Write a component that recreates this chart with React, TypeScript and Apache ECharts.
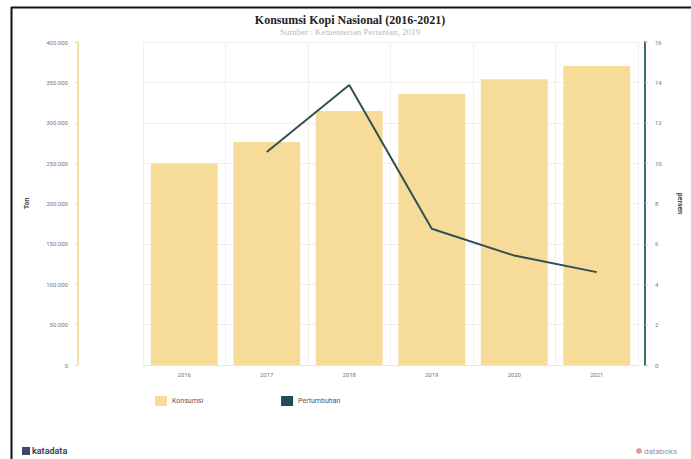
import React, { useEffect, useRef } from "react";
import * as echarts from "echarts";

const years = ["2016", "2017", "2018", "2019", "2020", "2021"];
const konsumsi = [249816, 276167, 314460, 335700, 353885, 370160];
const pertumbuhan = [null, 10.55, 13.87, 6.75, 5.42, 4.6];
const title = "Konsumsi Kopi Nasional (2016-2021)";
const subtitle = "Sumber : Kementerian Pertanian, 2019";

const fmt = (v: number) => v.toLocaleString("de-DE");

export default function App() {
  const ref = useRef<HTMLDivElement>(null);
  useEffect(() => {
    const chart = echarts.init(ref.current!, undefined, { renderer: "svg" });
    chart.setOption({
      animation: false,
      backgroundColor: "#ffffff",
      title: {
        text: title,
        subtext: subtitle,
        left: 345,
        textAlign: "center",
        top: 9,
        itemGap: 1,
        textStyle: { fontFamily: "Liberation Serif", fontSize: 12, fontWeight: "bold", color: "#222" },
        subtextStyle: { fontFamily: "Liberation Serif", fontSize: 9, color: "#bbb" },
      },
      legend: {
        left: 150,
        top: 391,
        itemWidth: 12,
        itemHeight: 10,
        itemGap: 78,
        icon: "rect",
        textStyle: { fontSize: 7, color: "#555", fontFamily: "Roboto" },
        data: ["Konsumsi", "Pertumbuhan"],
      },
      grid: { left: 143, right: 48, top: 42, bottom: 94 },
      xAxis: {
        type: "category",
        data: years,
        axisLine: { show: true, lineStyle: { color: "#e6e6e6" } },
        axisTick: { show: false },
        axisLabel: { fontSize: 6, color: "#777", margin: 6, fontFamily: "Roboto" },
        splitLine: { show: true, lineStyle: { color: "#efefef", width: 1 } },
      },
      yAxis: [
        {
          type: "value",
          min: 0,
          max: 400000,
          interval: 50000,
          position: "left",
          offset: 65,
          name: "Ton",
          nameLocation: "middle",
          nameRotate: 90,
          nameGap: 48,
          nameTextStyle: { fontSize: 7, fontWeight: "bold", color: "#444", fontFamily: "Roboto" },
          axisLine: { show: true, lineStyle: { color: "#f2e3a6", width: 2 } },
          axisTick: { show: true, length: 3, lineStyle: { color: "#ddd" } },
          axisLabel: { fontSize: 6, color: "#777", margin: 10, formatter: (v: number) => fmt(v), fontFamily: "Roboto" },
          splitLine: { show: true, lineStyle: { color: "#efefef" } },
        },
        {
          type: "value",
          min: 0,
          max: 16,
          interval: 2,
          position: "right",
          offset: 7,
          name: "persen",
          nameLocation: "middle",
          nameRotate: -90,
          nameGap: 31,
          nameTextStyle: { fontSize: 7, fontWeight: "bold", color: "#444", fontFamily: "Roboto" },
          axisLine: { show: true, lineStyle: { color: "#3d6b73", width: 2 } },
          axisTick: { show: true, length: 3, lineStyle: { color: "#ccc" } },
          axisLabel: { fontSize: 6, color: "#777", margin: 10, fontFamily: "Roboto" },
          splitLine: { show: false },
        },
      ],
      series: [
        {
          name: "Konsumsi",
          type: "bar",
          data: konsumsi,
          yAxisIndex: 0,
          barWidth: "81%",
          itemStyle: { color: "#f6dc98" },
        },
        {
          name: "Pertumbuhan",
          type: "line",
          data: pertumbuhan,
          yAxisIndex: 1,
          showSymbol: false,
          symbol: "none",
          lineStyle: { color: "#2f5053", width: 2 },
          itemStyle: { color: "#1f4b55" },
        },
      ],
      graphic: [
        { type: "line", shape: { x1: 11, y1: 7.5, x2: 691, y2: 7.5 }, style: { stroke: "#111", lineWidth: 2 } },
        { type: "line", shape: { x1: 11.5, y1: 7, x2: 11.5, y2: 459 }, style: { stroke: "#111", lineWidth: 2 } },
        { type: "rect", shape: { x: 22, y: 447, width: 8, height: 8 }, style: { fill: "#3a4a66" } },
        { type: "text", x: 32, y: 446, style: { text: "katadata", fontSize: 9, fontWeight: "bold", fill: "#3a4a66", fontFamily: "Roboto" } },
        { type: "circle", shape: { cx: 639, cy: 451, r: 3 }, style: { fill: "#e89a9a" } },
        { type: "text", x: 644, y: 447, style: { text: "databoks", fontSize: 8, fill: "#8a94a8", fontFamily: "Roboto" } },
      ],
    });
    return () => chart.dispose();
  }, []);
  return (
    <div style={{ position: "absolute", left: 0, top: 0, width: 691, height: 459 }}>
      <div ref={ref} style={{ width: 691, height: 459 }} />
    </div>
  );
}
